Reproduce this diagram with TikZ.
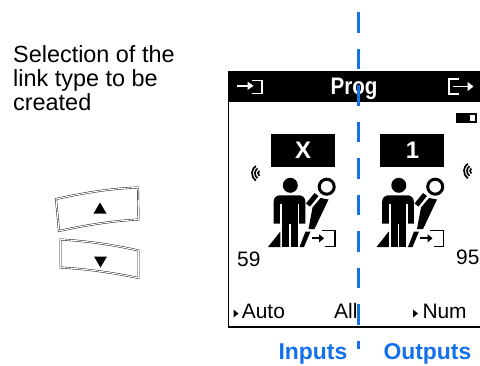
\documentclass[tikz,border=0pt]{standalone}
\usepackage{fontspec}
\setmainfont{Liberation Sans}
\usepackage{graphicx}
\usepackage{xcolor}
\usepackage{tikz}
\usetikzlibrary{arrows.meta}
\definecolor{linkblue}{RGB}{20,112,235}
\newcommand{\fsz}[1]{\fontsize{#1}{#1}\selectfont}
\newcommand{\linkicon}[1]{%
  \begin{scope}[shift={(#1,0)}]
    \fill (290.3,185.3) circle (7.5);
    \fill[rounded corners=6bp] (273.7,223.7) -- (273.7,195.3) -- (305.3,195.3) -- (305.3,223.7);
    \fill[white] (280.3,203.5) rectangle (282,224);
    \fill[white] (297.6,203.5) rectangle (299.3,224);
    \fill (282,222) rectangle (297.6,247);
    \fill[white] (289,224) rectangle (290.7,247.5);
    \fill (268,247) -- (280.3,231.5) -- (280.3,247) -- cycle;
    \fill (306,203.5) -- (314.5,193) -- (318.5,196) -- (310,206.5) -- cycle;
    \fill (312.5,207.5) -- (320.5,198) -- (328.5,199.5) -- (314.5,229) -- (308.5,229) -- cycle;
    \fill (305.5,231.5) -- (310.5,231.5) -- (304,247) -- (299.5,247) -- cycle;
    \draw[line width=3bp] (326.7,186.7) circle (7.5);
    \draw[line width=2bp,-{Triangle[length=5bp,width=8bp]}] (311.7,238.3) -- (324,238.3);
    \draw[line width=1.4bp] (321.7,230.2) -- (335,230.2) -- (335,246.5) -- (325,246.5);
  \end{scope}}

\begin{document}
\begin{tikzpicture}[x=1bp,y=-1bp,lbl/.style={inner sep=0,anchor=base west,font=\fsz{21}}]
    \tikzstyle{numbox} = [rectangle, fill=black, text=white, inner sep=0, minimum width=64bp, minimum height=32.5bp, font=\fsz{24}\bfseries]
    \tikzstyle{key} = [draw=black, line width=.4bp, double=white, double distance=1.1bp]
    \tikzstyle{glyph} = [white, line width=1.6bp]
    \tikzstyle{divider} = [linkblue, line width=3bp, dash pattern=on 20.5bp off 16bp]
    \useasboundingbox (0,0) rectangle (480,365);
        %%% caption %%%
        \node[lbl,font=\fontsize{23.5}{24}\selectfont,align=left] (sel) at (13,110) {Selection of the\\link type to be\\created};
        %%% keys %%%
        \draw[key] (56,199) .. controls (83,193) and (110,188.5) .. (138,187.5) -- (138.5,219.5) .. controls (111,221) and (84,225.5) .. (59,231) -- cycle;
        \fill (93.5,213.5) -- (106.5,213.5) -- (100,202.5) -- cycle;
        \draw[key] (60.5,239.5) .. controls (87,241) and (112,244.5) .. (138.5,250.5) -- (138.5,278) .. controls (112,272.5) and (87,269) .. (60.5,267.5) -- cycle;
        \fill (94,256.5) -- (107,256.5) -- (100.5,267.5) -- cycle;
        %%% screen %%%
        \fill (227.5,70.5) rectangle (481,101.5);
        \draw[line width=1.3bp] (228.2,101) -- (228.2,327) -- (481,327);
        \node[font=\fsz{24}\bfseries,text=white,anchor=base,inner sep=0] (prog) at (354,94.5) {\scalebox{.86}[1]{Prog}};
        % in / out glyphs
        \draw[glyph,-{Triangle[length=6bp,width=8bp]}] (236.7,85.8) -- (253.5,85.8);
        \draw[glyph] (252,80.5) -- (261.7,80.5) -- (261.7,93.5) -- (252,93.5);
        \draw[glyph] (458.5,79) -- (448.8,79) -- (448.8,94) -- (458.5,94);
        \draw[glyph,-{Triangle[length=6bp,width=9bp]}] (453,86.5) -- (473.5,86.5);
        % battery
        \fill (456,112.5) rectangle (477,123);
        \fill[white] (469.5,115) rectangle (474.5,120.5);
        % radio
        \foreach \cx/\cy in {261/173.3,473/171}
            \foreach \r in {3,6,9}
                \draw[line width=1.7bp] (\cx,\cy) ++(125:\r) arc[start angle=125,end angle=235,radius=\r];
        %%% link boxes
        \node[numbox] (inbox) at (303,150.3) {X};
        \node[numbox,right=45bp] (outbox) at (inbox.east) {1};
        \linkicon{0}
        \linkicon{108.5}
        %%% labels
        \node[lbl] (innum) at (237,266) {59};
        \node[lbl] (outnum) at (456,264) {95};
        \node[lbl] (auto) at (241.7,318.3) {Auto};
        \node[lbl] (all) at (334,318.3) {All};
        \node[lbl] (num) at (422.3,318.3) {Num};
        \fill (233.5,309.5) -- (233.5,317.5) -- (238.5,313.5) -- cycle;
        \fill (413,309.5) -- (413,317.5) -- (418,313.5) -- cycle;
        \node[lbl,font=\fsz{23}\bfseries,text=linkblue] (inputs) at (278.3,359.3) {Inputs};
        \node[lbl,font=\fsz{23}\bfseries,text=linkblue] (outputs) at (383.3,359.3) {Outputs};
        %%% divider
        \draw[divider] (358.3,12) -- (358.3,348.5);
\end{tikzpicture}
\end{document}
